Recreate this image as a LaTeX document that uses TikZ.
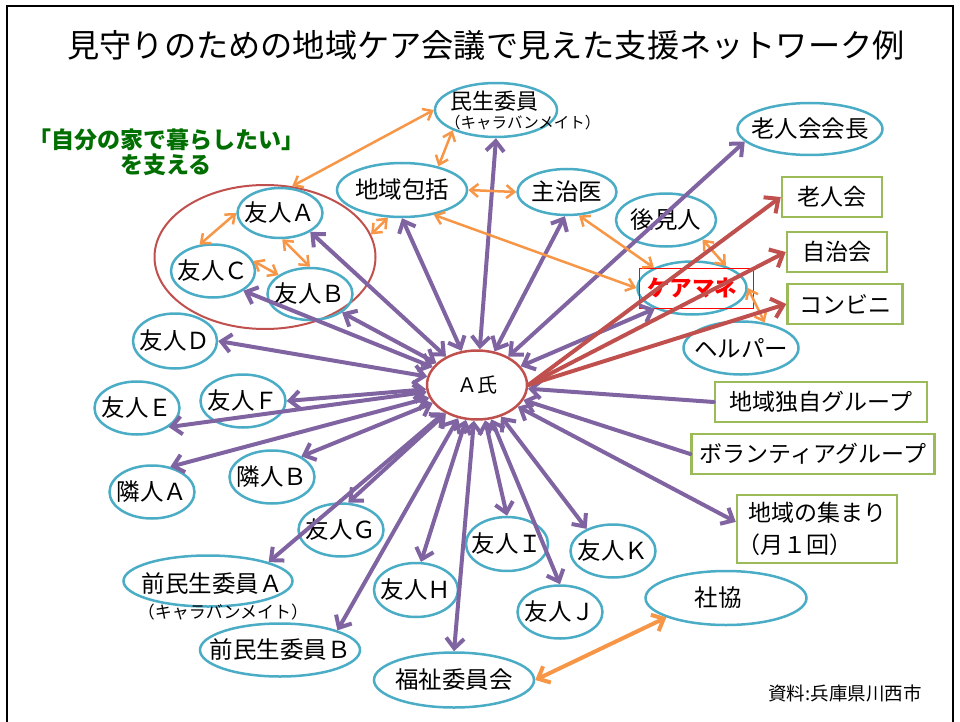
\documentclass[tikz,border=0pt]{standalone}
\usepackage{fontspec}
\setmainfont{Noto Sans CJK JP}
\usetikzlibrary{shapes.geometric,arrows.meta}
\definecolor{ecyan}{RGB}{75,172,198}
\definecolor{epurple}{RGB}{128,100,162}
\definecolor{eorange}{RGB}{247,150,70}
\definecolor{ered}{RGB}{192,80,77}
\definecolor{egreen}{RGB}{155,187,89}
\definecolor{dgreen}{RGB}{0,110,0}
\newcommand\fsz[1]{\fontsize{#1}{#1}\selectfont}
\begin{document}
\begin{tikzpicture}[x=1pt,y=-1pt,
  every label/.append style={font=\fsz{23.5}},
  ell/.style={ellipse, draw=ecyan, line width=2.5pt, inner sep=0pt},
  E/.style n args={3}{ell, minimum width=#1, minimum height=#2, label={center:#3}},
  gbox/.style={rectangle, draw=egreen, line width=2.5pt, inner sep=0pt, fill=white, font=\fsz{23}},
  pur/.style={draw=epurple, line width=4pt, line cap=round, >={Straight Barb[length=10pt,width=18pt]}, <->},
  purone/.style={draw=epurple, line width=4pt, line cap=round, >={Straight Barb[length=10pt,width=18pt]}, ->},
  ora/.style={draw=eorange, line width=2.5pt, line cap=round, >={Straight Barb[length=8pt,width=13pt]}, <->},
  oratwo/.style={draw=eorange, line width=4pt, line cap=round, >={Straight Barb[length=10pt,width=18pt]}, <->},
  redar/.style={draw=ered, line width=4pt, line cap=round, >={Straight Barb[length=11pt,width=20pt]}, ->}
]
\useasboundingbox (0,0) rectangle (960,722);
\draw[line width=2pt] (6.5,722) -- (6.5,6.5) -- (953,6.5) -- (953,722);

\node[font=\fsz{32.2}] (title) at (486,45) {見守りのための地域ケア会議で見えた支援ネットワーク例};
\node[font=\bfseries\fontsize{23}{25}\selectfont, text=dgreen, align=center] (motto) at (166,152) {「自分の家で暮らしたい」\\を支える};

% top nodes
\node[ell, minimum width=122pt, minimum height=54pt] (minsei) at (496,110) {};
\node[anchor=west, font=\fsz{22}, inner sep=0pt] (minseiT) at (450,101) {民生委員};
\node[anchor=west, font=\fsz{15.5}, inner sep=0pt] (minseiS) at (445,123) {（キャラバンメイト）};
\node[E={130pt}{54pt}{地域包括}] (chiiki) at (402,190) {};
\node[E={99pt}{46pt}{主治医}] (shuji) at (567,192) {};
\node[E={145pt}{52pt}{老人会会長}] (rokaicho) at (810,129) {};
\node[E={100pt}{53pt}{後見人}] (koken) at (666,220) {};
\node[ell, minimum width=109pt, minimum height=53pt, label={[text=red, font=\bfseries\fsz{22.5}]center:ケアマネ}] (kea) at (692,288) {};
\node[draw=red, line width=0.8pt, minimum width=114pt, minimum height=40pt, inner sep=0pt] (keabox) at (696,288) {};
\node[E={115pt}{53pt}{ヘルパー}] (helper) at (741,348) {};

% friends group
\node[ellipse, draw=ered, line width=2pt, minimum width=221pt, minimum height=144pt, inner sep=0pt] (grp) at (265,257) {};
\node[E={85pt}{50pt}{友人Ａ}] (yuA) at (280,213) {};
\node[E={84pt}{53pt}{友人Ｃ}] (yuC) at (213,271) {};
\node[E={85pt}{52pt}{友人Ｂ}] (yuB) at (310,294) {};

% left
\node[E={84pt}{55pt}{友人Ｄ}] (yuD) at (175,341) {};
\node[E={85pt}{53pt}{友人Ｅ}] (yuE) at (137,408) {};
\node[E={85pt}{53pt}{友人Ｆ}] (yuF) at (243,401) {};
\node[E={85pt}{53pt}{隣人Ａ}] (rinA) at (152,492) {};
\node[E={85pt}{53pt}{隣人Ｂ}] (rinB) at (272,477) {};
\node[E={85pt}{53pt}{友人Ｇ}] (yuG) at (341,530) {};

% bottom
\node[ell, minimum width=169pt, minimum height=51pt] (maeA) at (208,581) {};
\node[font=\fsz{23.5}, inner sep=0pt] (maeAT) at (212,584) {前民生委員Ａ};
\node[font=\fsz{17}, inner sep=0pt] (maeAS) at (223,612) {（キャラバンメイト）};
\node[E={160pt}{53pt}{前民生委員Ｂ}] (maeB) at (280,650) {};
\node[E={84pt}{54pt}{友人Ｈ}] (yuH) at (416,590) {};
\node[E={160pt}{55pt}{福祉委員会}] (fukushi) at (454,680) {};
\node[E={82pt}{54pt}{友人Ｉ}] (yuI) at (507,544) {};
\node[E={85pt}{53pt}{友人Ｊ}] (yuJ) at (560,612) {};
\node[E={85pt}{53pt}{友人Ｋ}] (yuK) at (613,551) {};
\node[ell, minimum width=161pt, minimum height=54pt, label={[xshift=-8pt]center:社協}] (shakyo) at (726,598) {};

% boxes
\node[gbox, minimum width=100pt, minimum height=40pt] (rokai) at (832,197) {老人会};
\node[gbox, minimum width=100pt, minimum height=40pt] (jichi) at (837,252) {自治会};
\node[gbox, minimum width=115pt, minimum height=40pt] (conv) at (845,304) {コンビニ};
\node[gbox, minimum width=212pt, minimum height=40pt] (dokuji) at (821,402) {地域独自グループ};
\node[gbox, minimum width=243pt, minimum height=40pt] (volunteer) at (813,454) {ボランティアグループ};
\node[gbox, minimum width=160pt, minimum height=68pt, align=left, font=\fontsize{23}{32}\selectfont] (atsumari) at (817,529) {地域の集まり\\\hspace*{-0.45em}（月１回）};

% centre
\node[ellipse, draw=ered, fill=white, line width=2.5pt, minimum width=100pt, minimum height=69pt, inner sep=0pt, font=\fsz{20}] (ashi) at (477,385) {Ａ氏};

\node[font=\fsz{18.5}, inner sep=0pt] (source) at (845,693) {資料:兵庫県川西市};

% purple connectors
\draw[pur] (ashi) -- (yuA.328);
\draw[pur] (ashi) -- (yuB.330);
\draw[pur] (ashi) -- (yuC.327);
\draw[pur] (ashi) -- (chiiki.south);
\draw[pur] (ashi) -- (minsei.south);
\draw[pur] (ashi) -- (shuji.265);
\draw[pur] (ashi) -- (rokaicho.191);
\draw[pur] (ashi) -- (kea.209);
\draw[pur] (ashi) -- (yuD.east);
\draw[pur] (ashi) -- (yuF.east);
\draw[pur] (ashi) -- (yuE.329);
\draw[pur] (ashi) -- (rinA.54);
\draw[pur] (ashi) -- (rinB.35);
\draw[pur] (ashi) -- (yuG.75);
\draw[pur] (ashi) -- (maeA.north east);
\draw[pur] (ashi) -- (maeB.north east);
\draw[pur] (ashi) -- (yuH.80);
\draw[pur] (ashi) -- (fukushi.north);
\draw[pur] (ashi) -- (yuI.north);
\draw[pur] (ashi) -- (yuJ.north);
\draw[pur] (ashi) -- (yuK.140);
\draw[pur] (ashi) -- (atsumari.175);
\draw[purone] (dokuji.west) -- (ashi);
\draw[purone] (volunteer.west) -- (ashi);

% orange connectors
\draw[ora] (grp.69) -- (minsei.west);
\draw[ora] (minsei.205) -- (chiiki.33);
\draw[ora] (chiiki.east) -- (shuji.west);
\draw[ora] (grp.12) -- (chiiki.243);
\draw[ora] (chiiki.322) -- (kea.west);
\draw[ora] (shuji.297) -- (kea.152);
\draw[ora] (koken.332) -- (kea.33);
\draw[ora] (kea.east) -- (helper.47);
\draw[ora] (yuA.west) -- (yuC.117);
\draw[ora] (yuC.14) -- (yuB.149);
\draw[ora] (yuA.275) -- (yuB.north);
\draw[oratwo] (fukushi.east) -- (shakyo.198);

% red connectors
\draw[redar] (ashi.east) -- (rokai.west);
\draw[redar] (ashi.east) -- (jichi.west);
\draw[redar] (ashi.east) -- (conv.west);
\end{tikzpicture}
\end{document}
